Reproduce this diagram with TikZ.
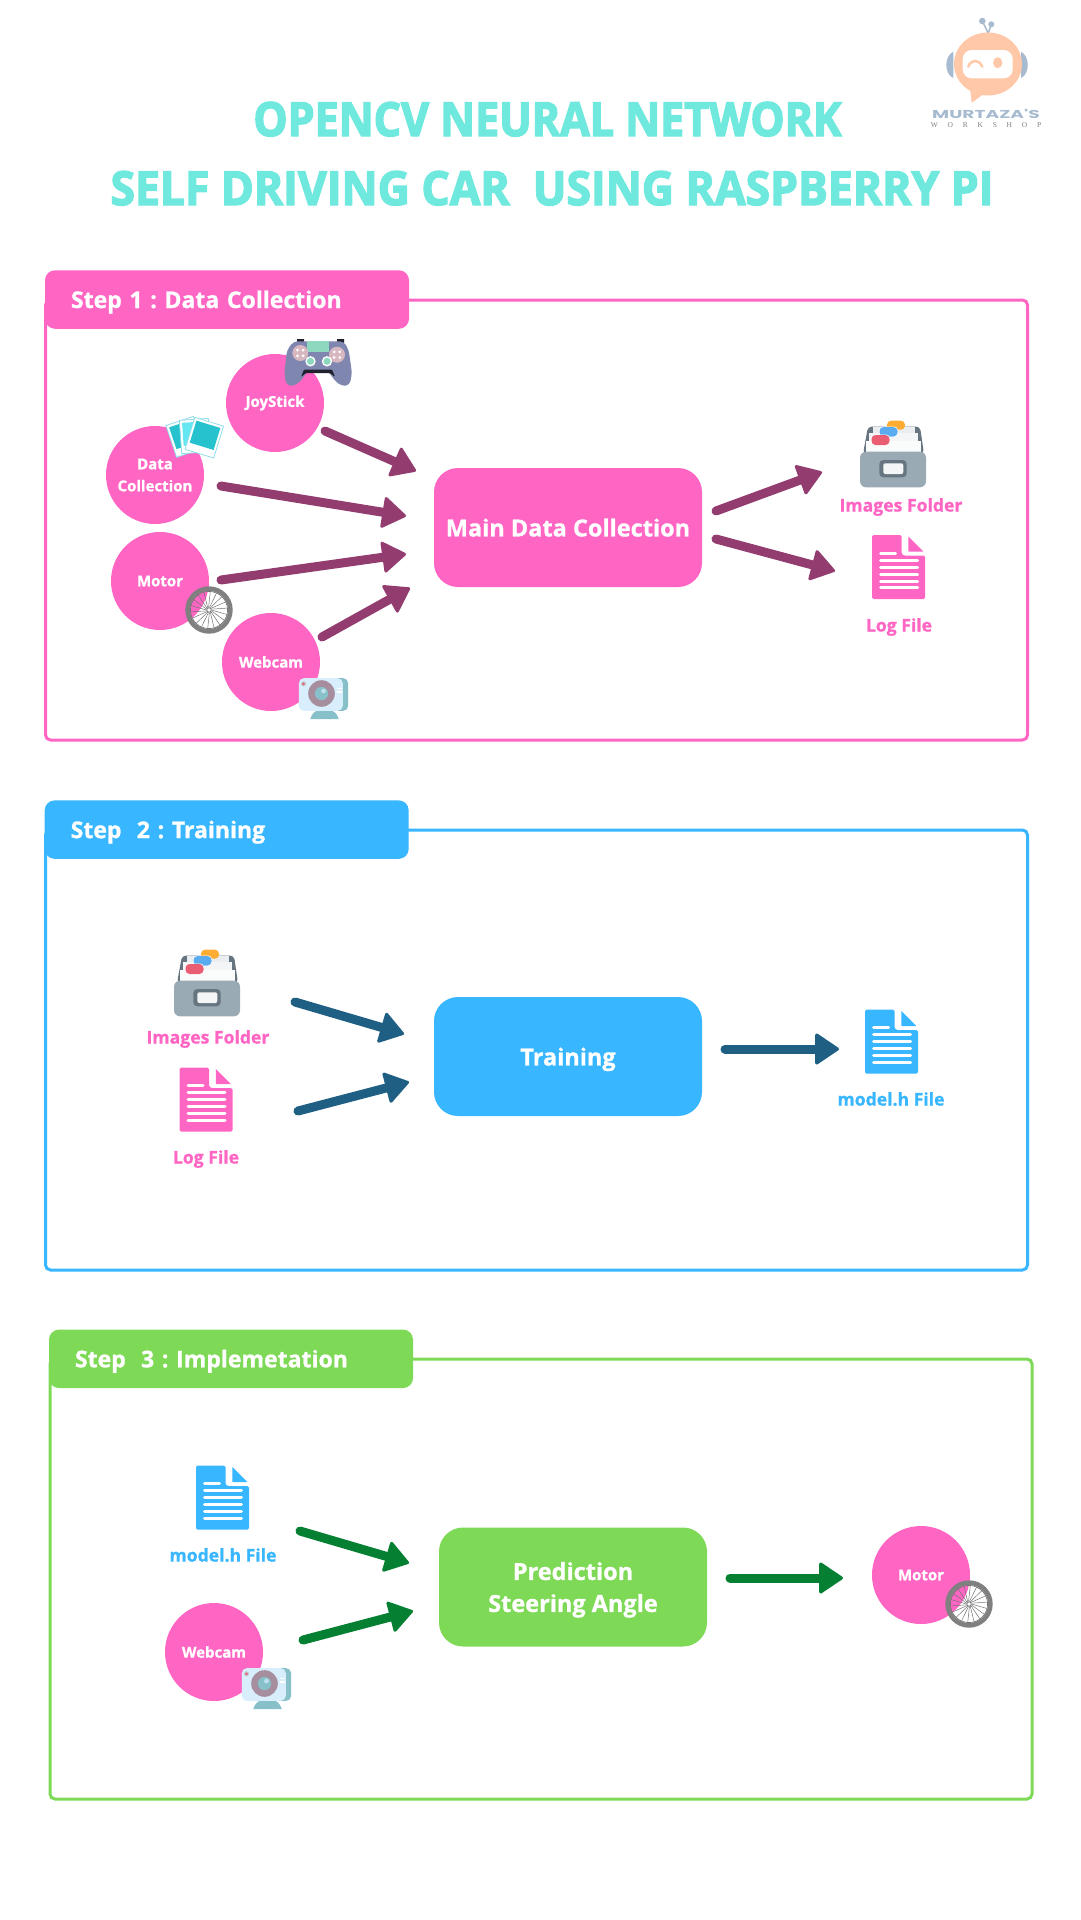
\documentclass[tikz,border=0pt]{standalone}
\usepackage{fontspec}
\usepackage{tikz}
\usetikzlibrary{arrows.meta}
\setmainfont[BoldFeatures={FakeBold=1}]{Open Sans}
\newfontfamily\titlefonta[FakeStretch=0.915,BoldFeatures={FakeBold=3}]{Open Sans}
\newfontfamily\titlefontb[FakeStretch=0.946,BoldFeatures={FakeBold=3}]{Open Sans}
\newfontfamily\logofont[FakeStretch=1.62]{Poppins}
\newfontfamily\logoserif[LetterSpace=130]{Liberation Serif}
\frenchspacing
\definecolor{pinkc}{HTML}{FF66C4}
\definecolor{bluec}{HTML}{38B6FF}
\definecolor{greenc}{HTML}{7ED957}
\definecolor{titlec}{HTML}{6FE8DE}
\definecolor{arrowpink}{HTML}{933C70}
\definecolor{arrowblue}{HTML}{1F5F84}
\definecolor{arrowgreen}{HTML}{058033}
\definecolor{logoblue}{HTML}{A7BBD0}
\definecolor{logopeach}{HTML}{FFC8A8}
\definecolor{steel}{HTML}{99AAB5}
\definecolor{steeldark}{HTML}{66757F}
\definecolor{taborange}{HTML}{FFAC33}
\definecolor{tabblue}{HTML}{5AACEE}
\definecolor{tabred}{HTML}{E95E73}
\definecolor{padc}{HTML}{7F86B0}
\definecolor{padmint}{HTML}{8FD8C0}
\definecolor{padbutton}{HTML}{D8B8C0}
\definecolor{camlight}{HTML}{D8EEFC}
\definecolor{camteal}{HTML}{88C0CA}
\definecolor{camlens}{HTML}{A78E9E}
\definecolor{photoc}{HTML}{26C2CE}
\definecolor{photoedge}{HTML}{8FDDEA}
\tikzset{
  circ/.style={circle,fill=pinkc,minimum size=98pt,inner sep=0pt,outer sep=0pt,text=white,align=center,font=\fontsize{15}{22}\selectfont\bfseries},
  bigbox/.style={rectangle,rounded corners=24pt,minimum width=268pt,minimum height=119pt,outer sep=0pt,text=white,align=center,text depth=0pt,font=\fontsize{23.5}{32}\selectfont\bfseries},
  stepframe/.style={rectangle,draw,line width=3pt,rounded corners=5pt,minimum width=982pt,minimum height=440pt,outer sep=0pt},
  stephead/.style={rectangle,rounded corners=10pt,minimum width=364pt,minimum height=58.5pt,inner xsep=26pt,inner ysep=0pt,outer sep=0pt,text width=312pt,text height=20pt,text depth=3pt,align=left,text=white,font=\fontsize{23}{27}\selectfont\bfseries},
  iconlabel/.style={font=\fontsize{17.6}{20}\selectfont\bfseries,inner sep=0pt},
  titlea/.style={text=titlec,anchor=base,inner sep=0pt,font=\fontsize{47}{50}\selectfont\titlefonta\bfseries},
  titleb/.style={text=titlec,anchor=base,inner sep=0pt,font=\fontsize{47}{50}\selectfont\titlefontb\bfseries},
  bigarrow/.style={line width=9pt,line cap=round,-{Triangle[length=25pt,width=33pt,round,line width=3pt]}},
  pics/docpic/.style={code={
    \fill[#1,rounded corners=1.5pt] (-26.5,-32) -- (3,-32) -- (3,-13) -- (5,-11.5) -- (26.5,-11.5) -- (26.5,32) -- (-26.5,32) -- cycle;
    \fill[#1,rounded corners=.5pt] (9.8,-30.7) -- (25,-15.4) -- (9.8,-15.4) -- cycle;
    \draw[white,line width=3pt,line cap=round] (-18,-13.7) -- (-3,-13.7) (-18,-7) -- (19,-7) (-18,.3) -- (19,.3) (-18,7.3) -- (19,7.3) (-18,14.3) -- (19,14.3) (-18,20.9) -- (19,20.9);
  }},
  pics/folderpic/.style={code={
    \fill[steeldark,rounded corners=4pt] (-30,0) -- (-25,-27.5) -- (27,-27.5) -- (31,0) -- cycle;
    \fill[white!80!steel] (-20,-27) rectangle (22,0);
    \fill[white!88!steel] (-24,-21) rectangle (25,0);
    \fill[white!95!steel] (-27,-13) rectangle (28,0);
    \fill[taborange,rounded corners=4pt] (-6,-33.3) rectangle (12,-24.3);
    \fill[white,rounded corners=4pt] (-14,-27.5) rectangle (5,-17);
    \fill[tabblue,rounded corners=4pt] (-13.5,-27) rectangle (4.5,-17.5);
    \fill[white,rounded corners=4pt] (-22,-19.5) rectangle (-3,-8.5);
    \fill[tabred,rounded corners=4pt] (-21.5,-19) rectangle (-3.5,-9);
    \fill[steel,rounded corners=6pt] (-33,-2.3) -- (33,-2.3) -- (33,33.3) -- (-33,33.3) -- cycle;
    \fill[steeldark,rounded corners=4pt] (-13.7,6) rectangle (13.7,23.3);
    \fill[white!88!steel,rounded corners=2pt] (-9.7,9.3) rectangle (10.3,20);
  }},
  pics/campic/.style={code={
    \fill[camteal] (-13.3,20.5) .. controls (-11,14) and (-8,12) .. (-4,12) -- (6,12) .. controls (10,12) and (13,14) .. (15.3,20.5) -- cycle;
    \fill[camteal,rounded corners=5pt] (-3.3,-20.3) rectangle (24.7,12.3);
    \fill[camlight,rounded corners=5pt] (-24.7,-20.3) rectangle (19.3,12.3);
    \fill[camlens] (-2,-5) circle[radius=13.3];
    \fill[camteal] (-2,-5) circle[radius=6.7];
    \fill[camlight!70!camteal] (0,-7.5) circle[radius=2.4];
    \fill[steel!60!white] (-20,-14.7) circle[radius=2.6];
    \fill[tabred] (-20,-14.7) circle[radius=1.5];
    \draw[white,line width=1.8pt] (13.3,-10) -- (18.7,-10) (13.3,-6.5) -- (18.7,-6.5);
  }},
  pics/wheelpic/.style={code={
    \foreach \a in {0,20,...,340} \draw[black!55,line width=.5pt] (\a:2.5) -- (\a+14:18.5);
    \draw[black!55,line width=.7pt] (0,0) circle[radius=2.2];
    \draw[black!55,line width=.7pt] (0,0) circle[radius=18.6];
    \draw[black!50,line width=4.6pt] (0,0) circle[radius=21.4];
  }},
  pics/photopic/.style={code={
    \begin{scope}[shift={(-10,-1.2)},rotate=18.6]
      \fill[white] (-14.5,-16.7) rectangle (14.5,16.7);
      \draw[photoedge,line width=.8pt] (-14.5,-16.7) rectangle (14.5,16.7);
      \fill[photoc] (-12,-14) rectangle (12,9);
    \end{scope}
    \begin{scope}[shift={(0,-2)},rotate=4]
      \fill[white] (-14.5,-16.7) rectangle (14.5,16.7);
      \draw[photoedge,line width=.8pt] (-14.5,-16.7) rectangle (14.5,16.7);
      \fill[photoedge!70!cyan] (-12,-14) rectangle (12,9);
    \end{scope}
    \begin{scope}[shift={(9.3,-.3)},rotate=-17]
      \fill[white] (-15,-16.7) rectangle (15,16.7);
      \draw[photoedge,line width=.8pt] (-15,-16.7) rectangle (15,16.7);
      \fill[photoc] (-12.5,-14) rectangle (12.5,9);
    \end{scope}
  }},
  pics/padpic/.style={code={
    \fill[black!75!padc] (-21,-24) rectangle (-14,-20) (19,-24) rectangle (26,-20);
    \fill[padc,rounded corners=4pt] (-31,-13) -- (-24.3,-21.7) -- (25.7,-21.7) -- (30.7,-13) -- (34,10) -- (31.7,22) -- (24,23.3) -- (15.7,16.7) -- (10.7,8.3) -- (-11,8.3) -- (-16,16.7) -- (-24.3,23.3) -- (-31.7,22) -- (-33.7,10) -- cycle;
    \fill[black!75!padc,rounded corners=1pt] (-14,6.5) -- (14,6.5) -- (17,14) -- (12,10) -- (-12,10) -- (-17,14) -- cycle;
    \fill[padmint] (-11,-21.7) rectangle (10.7,-11);
    \fill[padbutton] (-17.7,-10) circle[radius=8];
    \fill[padbutton] (19,-8.3) circle[radius=8];
    \foreach \a in {45,135,225,315} {
      \fill[white] ([shift={(\a:4)}]-17.7,-10) circle[radius=1.5];
      \fill[white] ([shift={(\a:4)}]19,-8.3) circle[radius=1.5];
    }
    \fill[white] (-7.5,-1.7) circle[radius=5.2];
    \fill[padmint] (-7.5,-1.7) circle[radius=3.6];
    \fill[white] (9,-1.7) circle[radius=5.2];
    \fill[padmint] (9,-1.7) circle[radius=3.6];
  }},
}
\begin{document}
\begin{tikzpicture}[x=1pt,y=-1pt]
  \useasboundingbox (0,0) rectangle (1080,1920);
  % title and logo
  \node[titlea] at (547.5,136) (title1) {OPENCV NEURAL NETWORK};
  \node[titleb] at (552,205) (title2) {SELF DRIVING CAR\ \ USING RASPBERRY PI};
  \fill[logoblue] (953.3,51.7) .. controls (944,56) and (944,74) .. (953.3,78) -- cycle;
  \fill[logoblue] (1021,51.7) .. controls (1030,56) and (1030,74) .. (1021,78) -- cycle;
  \draw[logoblue,line width=1.5pt] (988.3,33.3) -- (982.3,21) (988.3,33.3) -- (991.3,24.3);
  \fill[logoblue] (982.3,21) circle[radius=3.3] (991.3,24.3) circle[radius=3];
  \fill[logopeach] (988,64) ellipse[x radius=34,y radius=31.5];
  \fill[logopeach] (970,87) -- (971.7,102.7) -- (985,93) -- cycle;
  \fill[white,rounded corners=9pt] (962.7,50) rectangle (1012.7,78.3);
  \draw[logopeach,line width=2.5pt,line cap=round] (968.3,66.7) .. controls (971,59) and (979,59) .. (982.3,66.7);
  \fill[logopeach] (997.7,62.7) ellipse[x radius=4.7,y radius=5.5];
  \node[text=logoblue,inner sep=0pt,font=\fontsize{11.5}{12}\selectfont\logofont\bfseries] at (986,113.5) (logoname) {MURTAZA'S};
  \node[text=black!50,inner sep=0pt,font=\fontsize{7.5}{9}\selectfont\logoserif] at (986,125) (logosub) {WORKSHOP};

  % step 1
  \node[stepframe,draw=pinkc] at (536.5,520) (frame1) {};
  \node[stephead,fill=pinkc] at (227,299.5) (head1) {Step 1 : Data Collection};
  \node[circ] at (275,403) (joystick) {JoyStick};
  \node[circ] at (155,475) (datacol) {Data\\Collection};
  \node[circ] at (160,581) (motor) {Motor};
  \node[circ] at (271,662) (webcam) {Webcam};
  \pic at (318,363) {padpic};
  \pic at (195,438) {photopic};
  \pic at (209,610) {wheelpic};
  \pic at (323.5,698.5) {campic};
  \node[bigbox,fill=pinkc] at (568,527.5) (main) {Main Data Collection};
  \coordinate (folder1) at (893,454);
  \coordinate (log1) at (898.5,567);
  \pic at (folder1) {folderpic};
  \pic at (log1) {docpic=pinkc};
  \node[iconlabel,text=pinkc] at (901,507) (folderlabel1) {Images Folder};
  \node[iconlabel,text=pinkc] at (899,627) (loglabel1) {Log File};
  \draw[bigarrow,arrowpink] ([shift={(50,28)}]joystick.center) to ([shift={(-152,-56.5)}]main.center);
  \draw[bigarrow,arrowpink] ([shift={(66,11)}]datacol.center) to ([shift={(-162,-11.5)}]main.center);
  \draw[bigarrow,arrowpink] ([shift={(61,-1)}]motor.center) to ([shift={(-162,26.5)}]main.center);
  \draw[bigarrow,arrowpink] ([shift={(51,-25)}]webcam.center) to ([shift={(-158,60.5)}]main.center);
  \draw[bigarrow,arrowpink] ([shift={(148,-16.5)}]main.center) to ([shift={(-71,18)}]folder1);
  \draw[bigarrow,arrowpink] ([shift={(148,11.5)}]main.center) to ([shift={(-63.5,4)}]log1);

  % step 2
  \node[stepframe,draw=bluec] at (536.5,1050) (frame2) {};
  \node[stephead,fill=bluec] at (226.7,829.6) (head2) {Step\ \ 2 : Training};
  \coordinate (folder2) at (207,983);
  \coordinate (log2) at (206,1099.5);
  \coordinate (model1) at (891.5,1041.5);
  \pic at (folder2) {folderpic};
  \pic at (log2) {docpic=pinkc};
  \pic at (model1) {docpic=bluec};
  \node[iconlabel,text=pinkc] at (208,1039) (folderlabel2) {Images Folder};
  \node[iconlabel,text=pinkc] at (206,1159) (loglabel2) {Log File};
  \node[iconlabel,text=bluec] at (891,1099) (modellabel1) {model.h File};
  \node[bigbox,fill=bluec] at (568,1056.5) (training) {Training};
  \draw[bigarrow,arrowblue] ([shift={(88,19)}]folder2) to ([shift={(-164,-22.5)}]training.center);
  \draw[bigarrow,arrowblue] ([shift={(92,11.5)}]log2) to ([shift={(-159,25.5)}]training.center);
  \draw[bigarrow,arrowblue] ([shift={(157,-7.5)}]training.center) to ([shift={(-52.5,7.5)}]model1);

  % step 3
  \node[stepframe,draw=greenc] at (541,1579) (frame3) {};
  \node[stephead,fill=greenc] at (231,1358.8) (head3) {Step\ \ 3 : Implemetation};
  \coordinate (model2) at (222.5,1497.5);
  \pic at (model2) {docpic=bluec};
  \node[iconlabel,text=bluec] at (223,1555) (modellabel2) {model.h File};
  \node[circ] at (214,1652) (webcam3) {Webcam};
  \pic at (266.5,1688.5) {campic};
  \node[bigbox,fill=greenc] at (573,1587) (prediction) {Prediction\\Steering Angle};
  \node[circ] at (921,1575) (motor3) {Motor};
  \pic at (969,1604) {wheelpic};
  \draw[bigarrow,arrowgreen] ([shift={(77.5,33.5)}]model2) to ([shift={(-164,-24)}]prediction.center);
  \draw[bigarrow,arrowgreen] ([shift={(89,-12)}]webcam3.center) to ([shift={(-160,24)}]prediction.center);
  \draw[bigarrow,arrowgreen] ([shift={(157,-9)}]prediction.center) to ([shift={(-78,3)}]motor3.center);
\end{tikzpicture}
\end{document}
